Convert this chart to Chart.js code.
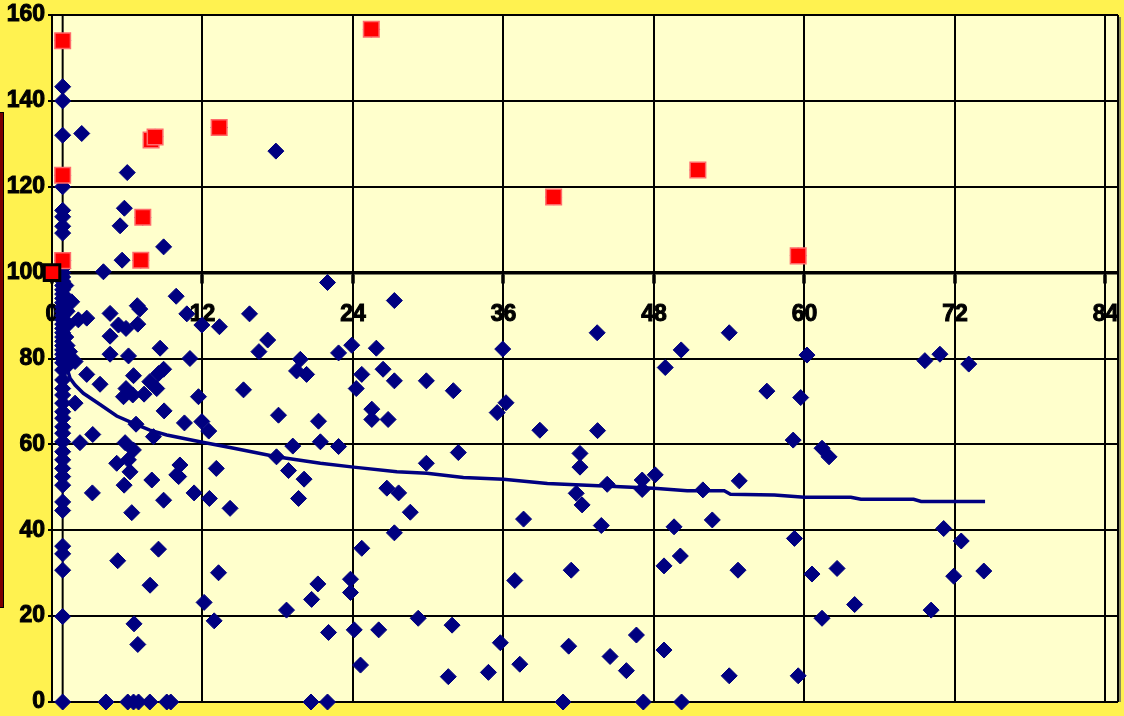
<!DOCTYPE html>
<html><head><meta charset="utf-8">
<script src="https://cdn.jsdelivr.net/npm/chart.js@4/dist/chart.umd.min.js"></script>
<style>
html,body{margin:0;padding:0;background:#FFF250;}
#wrap{position:relative;width:1124px;height:716px;overflow:hidden;background:#FFF250;}
#bar{position:absolute;left:0;top:112px;width:3px;height:494px;background:#7A0000;border:1px solid #000;border-left:none;}
canvas{position:absolute;left:0;top:0;}
</style></head><body>
<div id="wrap"><div id="bar"></div><canvas id="c" width="1124" height="716"></canvas></div>
<script>
const xTickLabels = [0, 12, 24, 36, 48, 60, 72, 84];
const yTickLabels = [0, 20, 40, 60, 80, 100, 120, 140, 160];

// blue diamonds [x, y]
const diamondsColumn = [
  [0.85,143.3],[0.85,140],[0.85,132],[0.85,120],[0.85,114.5],[0.85,113],[0.85,110.8],[0.85,109.2],[0.85,101],
  [0.85,100],[0.85,99],[0.85,98],[0.85,97],[0.85,96],[0.85,95],[0.85,94],[0.85,93],[0.85,92],[0.85,91],[0.85,90],
  [0.85,89],[0.85,88],[0.85,87],[0.85,86],[0.85,85],[0.85,84],[0.85,83],[0.85,82],[0.85,81],[0.85,80],[0.85,79],
  [1.1,97],[1.1,94],[1.2,91],[1.3,88],[1.1,85],[1.2,83],[1.1,80.5],[1.3,78.5],[1.57,93.2],[2.1,89],[1.84,79.3],[1.4,81.6],
  [0.85,77.3],[0.85,75],[0.85,73],[0.85,71.5],[0.85,69.6],[0.85,67.6],[0.85,66.1],[0.85,64.1],[0.85,62.6],[0.85,60.6],
  [0.85,58.3],[0.85,56.4],[0.85,54.4],[0.85,52.5],[0.85,50.5],[0.85,46.6],[0.85,44.6],[0.85,36.3],[0.85,34.5],
  [0.85,30.7],[0.85,19.9],[0.85,0]
];
const diamondsEarly = [
  [2.37,132.4],[6.0,123.3],[5.77,115],[5.43,110.9],[8.9,106],[5.59,102.9],[4.1,100.2],[17.85,128.3],
  [9.9,94.5],[6.8,92.3],[7.0,91.5],[4.63,90.5],[10.75,90.4],[15.75,90.4],[2.77,89.4],[5.3,87.8],[5.9,87],[6.84,88],
  [11.95,87.8],[13.35,87.4],[4.63,85.2],[17.2,84.3],[16.5,81.6],[8.62,82.4],[4.63,81],[6.1,80.6],[11.0,80.0],
  [2.77,76.3],[3.83,74],[6.5,76],[8.9,77.5],[8.5,76.5],[7.8,74.6],[8.35,73],[5.9,73],[6.44,71.5],[5.7,71.1],
  [7.34,71.7],[15.27,72.7],[11.68,71.1],[1.84,69.6],[8.94,67.8],[18.06,66.8],[10.56,65],[11.95,65.3],[12.5,63.1],
  [6.7,64.7],[3.25,62.3],[8.09,61.8],[2.23,60.4],[5.83,60.4],[6.49,58.7],[6.09,56.4],[5.16,55.6],[6.22,53.6],
  [10.2,55.2],[13.1,54.4],[9.95,52.9],[5.75,50.5],[7.96,51.7],[10.1,52.5],[3.22,48.7],[8.9,47],[11.33,48.7],
  [12.55,47.4],[14.2,45.1],[6.36,44.1],[8.49,35.6],[5.24,32.9],[7.82,27.2],[13.28,30.1],[12.13,23.2],[12.93,18.9],
  [6.54,18.2],[6.84,13.4],
  [4.3,0],[6.04,0],[6.5,0],[6.9,0],[7.8,0],[9.15,0],[9.47,0]
];
const diamondsMid = [
  [21.97,97.7],[27.3,93.5],[43.47,86],[23.9,83.1],[25.86,82.4],[35.94,82.2],[22.85,81.3],[50.17,82],[19.8,79.8],
  [19.5,77.1],[20.3,76.3],[24.7,76.3],[26.4,77.5],[27.3,74.8],[29.85,74.8],[24.26,73],[32.0,72.5],[48.9,77.9],
  [36.2,69.7],[35.5,67.4],[21.25,65.4],[25.5,68.2],[25.5,65.8],[26.8,65.8],[38.9,63.3],[43.5,63.2],[19.2,59.6],
  [21.4,60.6],[22.85,59.5],[32.4,58.1],[42.1,57.9],[17.9,57.1],[42.1,54.7],[29.85,55.6],[18.86,53.9],[20.1,51.9],
  [48.1,52.9],[47.06,51.7],[44.27,50.7],[47.06,49.5],[26.7,49.8],[27.64,48.7],[41.8,48.6],[19.66,47.4],[42.27,45.9],
  [28.57,44.2],[37.6,42.6],[43.8,41.1],[49.6,40.8],[27.3,39.4],[24.7,35.8],[50.1,34],[48.8,31.7],[41.4,30.7],
  [36.9,28.3],[23.8,28.6],[23.8,25.5],[21.2,27.5],[20.7,23.9],[18.7,21.4],[29.2,19.5],[31.9,17.9],[22.05,16.2],
  [24.1,16.8],[26.05,16.8],[46.6,15.6],[35.75,13.8],[41.2,13],[48.8,12.1],[44.5,10.6],[37.3,8.8],[24.6,8.6],
  [45.8,7.3],[34.8,6.9],[31.6,5.9],
  [20.65,0],[21.97,0],[40.75,0],[47.15,0],[50.2,0]
];
const diamondsLate = [
  [54,86],[60.2,80.8],[69.6,79.5],[70.8,81],[73.1,78.7],[57,72.4],[59.7,70.9],[59.1,61],[61.4,59.1],[61.96,57.1],
  [54.8,51.5],[51.9,49.4],[52.65,42.4],[71.1,40.4],[72.5,37.5],[59.2,38.1],[54.7,30.7],[60.6,29.8],[62.6,31.1],
  [71.9,29.3],[74.3,30.5],[64,22.7],[70.1,21.4],[61.4,19.5],[54,6.1],[59.5,6.1]
];
// highlighted (red square) points
const redPoints = [
  [0.85,154],[0.85,122.7],[0.85,102.8],[7.24,112.9],[7.08,102.9],[7.9,130.9],[8.22,131.6],[13.33,133.8],
  [25.46,156.7],[40,117.6],[51.5,123.9],[59.5,103.9]
];
const originPoint = [[0,100]];
// trend line
const trendPoints = [
  [0.85,81],[1.44,75.4],[1.84,73.8],[2.5,71.9],[3.83,69.3],[5.16,66.6],[6.5,64.9],[7.8,63.3],[9.15,62.2],
  [11.8,60.6],[14.5,59.1],[17.9,57.1],[21.4,55.6],[24.05,54.7],[27.5,53.6],[29.9,53.3],[32.8,52.3],[36,51.9],
  [39.5,50.9],[44,50.3],[48,49.8],[50.65,49.2],[53.6,49.2],[54.1,48.4],[57.6,48.2],[60,47.7],[63.7,47.7],
  [64.5,47.2],[68.7,47.2],[69.3,46.7],[74.4,46.7]
];
const markerLine = [[0.85,0],[0.85,160]];

const toXY = a => a.map(p => ({x: p[0], y: p[1]}));
const NAVY = '#000080';
const labelFont = {family: '"Liberation Sans", Arial, sans-serif', size: 23, weight: 'bold'};
const noPad = () => ({left: 0, top: 0, right: 0, bottom: 0});

const plotBg = {
  id: 'plotBg',
  beforeDraw(chart) {
    const {ctx, chartArea: a} = chart;
    ctx.save();
    ctx.fillStyle = '#FFFFCC';
    ctx.fillRect(a.left, a.top, a.right - a.left, a.bottom - a.top);
    ctx.restore();
  },
  beforeDatasetsDraw(chart) {
    const {ctx, chartArea: a} = chart;
    ctx.save();
    ctx.strokeStyle = '#000';
    ctx.lineWidth = 2;
    ctx.beginPath();
    ctx.moveTo(a.right, a.top); ctx.lineTo(a.right, a.bottom);
    ctx.stroke();
    ctx.strokeStyle = '#8a8a60';
    ctx.beginPath();
    ctx.moveTo(a.right + 2, a.top + 2); ctx.lineTo(a.right + 2, a.bottom);
    ctx.stroke();
    ctx.restore();
  }
};

const allDiamonds = [].concat(diamondsColumn, diamondsEarly, diamondsMid, diamondsLate, redPoints);

new Chart(document.getElementById('c'), {
  type: 'scatter',
  data: {
    datasets: [
      {data: toXY(originPoint), pointStyle: 'rect', pointRadius: 11, backgroundColor: '#FF0000', borderColor: '#000', borderWidth: 3, order: 0, clip: false},
      {data: toXY(redPoints), pointStyle: 'rect', pointRadius: 11, backgroundColor: '#FF0000', borderColor: '#FF6A6A', borderWidth: 1.5, order: 1, clip: false},
      {data: toXY(trendPoints), showLine: true, pointRadius: 0, borderColor: NAVY, borderWidth: 3.5, order: 2, clip: false},
      {data: toXY(allDiamonds), pointStyle: 'rectRot', pointRadius: 8, backgroundColor: NAVY, borderColor: NAVY, borderWidth: 1, order: 3, clip: false},
      {data: toXY(markerLine), showLine: true, pointRadius: 0, borderColor: '#000', borderWidth: 2, order: 4}
    ]
  },
  options: {
    responsive: false,
    animation: false,
    devicePixelRatio: 1,
    layout: {autoPadding: false, padding: {left: 0, right: 6, top: 15, bottom: 14}},
    plugins: {legend: {display: false}, tooltip: {enabled: false}},
    elements: {point: {hoverRadius: 8}},
    scales: {
      x: {
        type: 'linear', min: 0, max: 85, position: {y: 100},
        afterBuildTicks: s => { s.ticks = xTickLabels.map(v => ({value: v})); },
        afterFit: s => { s.paddingLeft = 0; s.paddingRight = 0; s.getPadding = noPad; },
        grid: {color: '#000', lineWidth: 2, tickLength: 9, tickWidth: 3.5, tickColor: '#000'},
        border: {color: '#000', width: 3.5},
        ticks: {font: labelFont, color: '#000', padding: 19, maxRotation: 0, autoSkip: false, textStrokeColor: '#000', textStrokeWidth: 1}
      },
      y: {
        type: 'linear', min: 0, max: 160, position: 'left',
        afterBuildTicks: s => { s.ticks = yTickLabels.map(v => ({value: v})); },
        afterFit: s => { s.width = 52; s.paddingTop = 0; s.paddingBottom = 0; s.getPadding = noPad; },
        grid: {color: '#000', lineWidth: 2, tickLength: 4, tickColor: '#000'},
        border: {color: '#000', width: 2},
        ticks: {font: labelFont, color: '#000', padding: 3, textStrokeColor: '#000', textStrokeWidth: 1}
      }
    }
  },
  plugins: [plotBg]
});
</script>
</body></html>
